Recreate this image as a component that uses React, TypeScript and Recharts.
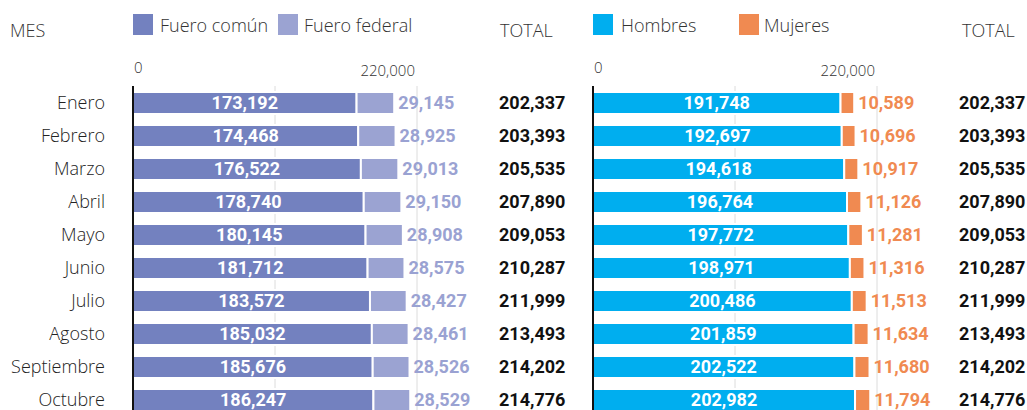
import React from 'react';
import { BarChart, Bar, XAxis, YAxis, CartesianGrid, LabelList } from 'recharts';

const meses = ['Enero', 'Febrero', 'Marzo', 'Abril', 'Mayo', 'Junio', 'Julio', 'Agosto', 'Septiembre', 'Octubre'];
const fueroComun = [173192, 174468, 176522, 178740, 180145, 181712, 183572, 185032, 185676, 186247];
const fueroFederal = [29145, 28925, 29013, 29150, 28908, 28575, 28427, 28461, 28526, 28529];
const hombres = [191748, 192697, 194618, 196764, 197772, 198971, 200486, 201859, 202522, 202982];
const mujeres = [10589, 10696, 10917, 11126, 11281, 11316, 11513, 11634, 11680, 11794];
const totales = [202337, 203393, 205535, 207890, 209053, 210287, 211999, 213493, 214202, 214776];
const xTicks = [0, 110000, 220000];

const data = meses.map((mes, i) => ({
  mes,
  comun: fueroComun[i],
  federal: fueroFederal[i],
  hombres: hombres[i],
  mujeres: mujeres[i],
  total: totales[i],
}));

const LIGHT = '"Open Sans", "DejaVu Sans", sans-serif';
const NUM = 'Roboto, "Liberation Sans", sans-serif';
const fmt = (v: any) => Number(v).toLocaleString('en-US');

const TopTick = ({ x, y, payload }: any) => {
  if (payload.value === 110000) return null;
  const isZero = payload.value === 0;
  return (
    <text
      x={isZero ? x + 1 : x - 2}
      y={y}
      dy={isZero ? -13 : -10}
      textAnchor={isZero ? 'start' : 'end'}
      fill="#333"
      fontFamily={LIGHT}
      fontWeight={300}
      fontSize={15}
    >
      {fmt(payload.value)}
    </text>
  );
};

const TotalTick = ({ x, y, payload }: any) => (
  <text x={x} y={y} dy={6} textAnchor="start" fill="#111" fontFamily={NUM} fontWeight={700} fontSize={18}>
    {fmt(payload.value)}
  </text>
);

const Square = ({ left, color }: { left: number; color: string }) => (
  <div style={{ position: 'absolute', left, top: 14, width: 20, height: 21, background: color }} />
);

const Label = ({ left, top, children, size = 18 }: any) => (
  <div
    style={{
      position: 'absolute',
      left,
      top,
      fontFamily: LIGHT,
      fontWeight: 300,
      fontSize: size,
      color: '#333',
      whiteSpace: 'nowrap',
      lineHeight: '22px',
    }}
  >
    {children}
  </div>
);

interface PanelProps {
  first: string;
  second: string;
  c1: string;
  c2: string;
  labelColor: string;
  showMonths: boolean;
  width: number;
}

const Panel: React.FC<PanelProps> = ({ first, second, c1, c2, labelColor, showMonths, width }) => (
  <BarChart
    width={width}
    height={420}
    data={data}
    layout="vertical"
    margin={{ top: 6, right: 0, bottom: 4, left: 0 }}
  >
    <CartesianGrid horizontal={false} stroke="#dcdcdc" />
    <XAxis
      type="number"
      orientation="top"
      domain={[0, 220000]}
      ticks={xTicks}
      height={80}
      axisLine={false}
      tickLine={false}
      tickSize={0}
      tickMargin={0}
      tick={<TopTick />}
    />
    <YAxis
      yAxisId="mes"
      type="category"
      dataKey="mes"
      width={showMonths ? 133 : 33}
      tickLine={false}
      tickSize={0}
      tickMargin={28}
      tick={showMonths ? { fill: '#222', fontFamily: LIGHT, fontWeight: 300, fontSize: 18 } : false}
      axisLine={{ stroke: '#111', strokeWidth: 2 }}
    />
    <YAxis
      yAxisId="tot"
      orientation="right"
      type="category"
      dataKey="total"
      width={width - 284 - (showMonths ? 133 : 33)}
      axisLine={false}
      tickLine={false}
      tickSize={0}
      tickMargin={82}
      tick={<TotalTick />}
    />
    <Bar yAxisId="mes" dataKey={first} stackId="a" fill={c1} stroke="#fff" strokeWidth={2} barSize={22} isAnimationActive={false}>
      <LabelList
        dataKey={first}
        position="center"
        formatter={fmt}
        fill="#fff"
        fontFamily={NUM}
        fontWeight={700}
        fontSize={18}
      />
    </Bar>
    <Bar yAxisId="mes" dataKey={second} stackId="a" fill={c2} stroke="#fff" strokeWidth={2} barSize={22} isAnimationActive={false}>
      <LabelList
        dataKey={second}
        position="right"
        offset={4}
        formatter={fmt}
        fill={labelColor}
        fontFamily={NUM}
        fontWeight={700}
        fontSize={18}
      />
    </Bar>
  </BarChart>
);

export default function App() {
  return (
    <div style={{ position: 'absolute', left: 0, top: 0, width: 1027, height: 410, overflow: 'hidden', background: '#fff' }}>
      <div style={{ position: 'absolute', left: 0, top: 0 }}>
        <Panel first="comun" second="federal" c1="#7381bf" c2="#9ba3d2" labelColor="#9aa2d2" showMonths width={580} />
      </div>
      <div style={{ position: 'absolute', left: 560, top: 0 }}>
        <Panel first="hombres" second="mujeres" c1="#00aeef" c2="#f08a51" labelColor="#f08a51" showMonths={false} width={467} />
      </div>
      <Label left={10} top={19}>MES</Label>
      <Square left={133} color="#7381bf" />
      <Label left={160} top={14}>Fuero común</Label>
      <Square left={278} color="#9ba3d2" />
      <Label left={304} top={14}>Fuero federal</Label>
      <Label left={500} top={19}>TOTAL</Label>
      <Square left={593} color="#00aeef" />
      <Label left={621} top={14}>Hombres</Label>
      <Square left={739} color="#f08a51" />
      <Label left={764} top={14}>Mujeres</Label>
      <Label left={962} top={19}>TOTAL</Label>
    </div>
  );
}
